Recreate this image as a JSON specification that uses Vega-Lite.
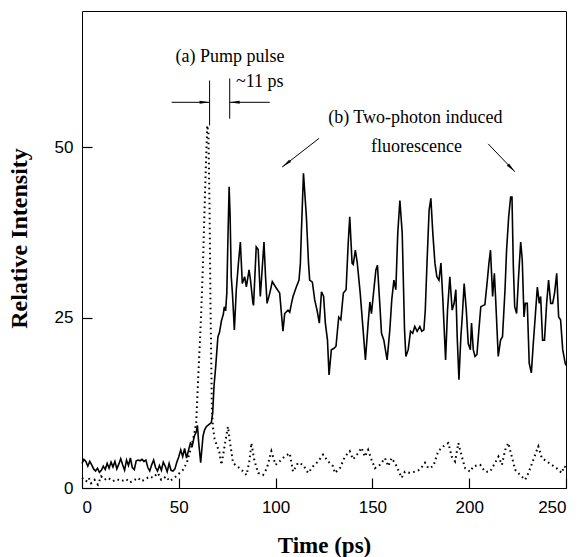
{
  "$schema": "https://vega.github.io/schema/vega-lite/v6.json",
  "width": 484,
  "height": 477,
  "autosize": {"type": "none"},
  "padding": {"left": 82, "top": 11, "right": 15, "bottom": 69},
  "background": "white",
  "config": {
    "view": {"stroke": "black", "strokeWidth": 1},
    "axis": {
      "domain": false, "labelColor": "black", "titleColor": "black",
      "labelFont": "Liberation Sans", "labelFontSize": 17,
      "titleFont": "Liberation Serif", "titleFontWeight": "bold",
      "grid": false
    }
  },
  "datasets": {
    "fluor": [
      {"t":0,"v":3.6},{"t":1,"v":4.2},{"t":2,"v":3.9},{"t":3,"v":3.2},{"t":4,"v":3.9},{"t":5,"v":3.4},{"t":6,"v":2.8},{"t":7,"v":2.5},{"t":8,"v":2.9},{"t":9,"v":2.3},
      {"t":10,"v":2.6},{"t":11,"v":3.2},{"t":12,"v":2.7},{"t":13,"v":3.6},{"t":14,"v":2.9},{"t":15,"v":3.8},{"t":16,"v":3.1},{"t":17,"v":3.9},{"t":18,"v":2.8},{"t":19,"v":3.5},
      {"t":20,"v":4.3},{"t":21,"v":3.4},{"t":22,"v":2.6},{"t":23,"v":4.1},{"t":24,"v":3.3},{"t":25,"v":4.4},{"t":26,"v":3.0},{"t":27,"v":2.7},{"t":28,"v":4.0},{"t":29,"v":4.1},
      {"t":30,"v":4.0},{"t":31,"v":4.2},{"t":32,"v":3.9},{"t":33,"v":4.1},{"t":34,"v":3.0},{"t":35,"v":2.5},{"t":36,"v":3.4},{"t":37,"v":4.1},{"t":38,"v":3.0},{"t":39,"v":2.5},
      {"t":40,"v":3.3},{"t":41,"v":2.6},{"t":42,"v":3.8},{"t":43,"v":3.2},{"t":44,"v":2.4},{"t":45,"v":3.6},{"t":46,"v":2.6},{"t":47,"v":2.5},{"t":48,"v":2.8},{"t":49,"v":3.8},
      {"t":50,"v":4.6},{"t":51,"v":5.6},{"t":52,"v":4.6},{"t":53,"v":5.8},{"t":54,"v":4.4},{"t":55,"v":5.5},{"t":56,"v":6.6},{"t":57,"v":6.2},{"t":58,"v":7.6},{"t":59,"v":8.2},
      {"t":59.6,"v":9.2},{"t":60.3,"v":6.6},{"t":61.3,"v":3.7},{"t":62.5,"v":7.6},{"t":63.3,"v":8.5},{"t":64.2,"v":9},{"t":65.5,"v":9.3},{"t":66.8,"v":9.6},{"t":67.5,"v":11},{"t":68.2,"v":15},
      {"t":69,"v":17.6},{"t":70.2,"v":22.2},{"t":71,"v":22.8},{"t":72,"v":24.5},{"t":73,"v":25.5},{"t":73.5,"v":26.6},{"t":74.2,"v":26},{"t":74.8,"v":28.6},{"t":75.4,"v":36.9},{"t":76,"v":44.2},
      {"t":76.5,"v":40},{"t":77.1,"v":31},{"t":77.7,"v":28.6},{"t":78.7,"v":23.2},{"t":79.7,"v":29.1},{"t":80.8,"v":33},{"t":81.8,"v":36.1},{"t":82.8,"v":30},{"t":84,"v":31},{"t":84.9,"v":29.5},
      {"t":86.3,"v":32},{"t":87,"v":30.6},{"t":88.3,"v":27.1},{"t":88.6,"v":26.8},{"t":90,"v":35.4},{"t":91,"v":35},{"t":92.1,"v":28.1},{"t":92.8,"v":31},{"t":94,"v":36.1},{"t":94.8,"v":31},
      {"t":95.6,"v":27.1},{"t":97,"v":28.6},{"t":98.3,"v":30.3},{"t":100,"v":29.5},{"t":102.1,"v":28.6},{"t":103.8,"v":23},{"t":104.7,"v":25.6},{"t":106.4,"v":26.1},{"t":107.3,"v":25.8},{"t":108.2,"v":27.1},
      {"t":109,"v":28.1},{"t":110.7,"v":29.5},{"t":112.1,"v":30.5},{"t":112.8,"v":33},{"t":113.3,"v":37.4},{"t":114.4,"v":46.2},{"t":115.9,"v":39.8},{"t":117,"v":33},{"t":117.6,"v":30.5},{"t":119,"v":30.2},
      {"t":120.2,"v":27.6},{"t":121.4,"v":26.1},{"t":122.6,"v":24.2},{"t":123.7,"v":28.8},{"t":124.8,"v":28.1},{"t":125.7,"v":24.2},{"t":126.8,"v":21.7},{"t":127.6,"v":16.6},{"t":128.8,"v":20.3},{"t":130.2,"v":20.5},
      {"t":131.2,"v":20.8},{"t":132.6,"v":25.1},{"t":133.7,"v":24.7},{"t":135,"v":28.6},{"t":136.4,"v":29.1},{"t":137.5,"v":35.9},{"t":138.3,"v":39.8},{"t":139.5,"v":33},{"t":140.1,"v":32.8},{"t":141.2,"v":34.9},
      {"t":142.2,"v":33},{"t":143.7,"v":28.6},{"t":145.2,"v":23.2},{"t":146.4,"v":18.8},{"t":147.8,"v":24.2},{"t":148.7,"v":27.3},{"t":149.5,"v":25.6},{"t":150.4,"v":28.1},{"t":151.8,"v":32},{"t":152.6,"v":32.7},
      {"t":153.8,"v":27.1},{"t":154.7,"v":22.7},{"t":155.9,"v":21.7},{"t":157.6,"v":18.8},{"t":159,"v":23.2},{"t":160,"v":27.6},{"t":161.1,"v":30.5},{"t":162.1,"v":29.1},{"t":163.1,"v":37.4},{"t":164.2,"v":42.2},
      {"t":165.4,"v":37.4},{"t":166.6,"v":23.2},{"t":167.3,"v":19.3},{"t":168.5,"v":20.3},{"t":169.7,"v":23},{"t":170.8,"v":22.7},{"t":171.9,"v":23.7},{"t":173.1,"v":23},{"t":174.5,"v":23.7},{"t":175.5,"v":23},
      {"t":176.6,"v":23.2},{"t":177.3,"v":26},{"t":178.2,"v":33},{"t":179.3,"v":40.8},{"t":180.2,"v":42.5},{"t":181.2,"v":37.4},{"t":182.3,"v":33},{"t":183.3,"v":31},{"t":184.4,"v":30.5},{"t":185.4,"v":33},
      {"t":186.4,"v":27.6},{"t":187.8,"v":18.8},{"t":188.8,"v":26.1},{"t":190,"v":31},{"t":191.2,"v":26.1},{"t":192.2,"v":27.1},{"t":193.1,"v":29.1},{"t":193.8,"v":22.2},{"t":194.7,"v":15.9},{"t":195.7,"v":22.2},
      {"t":196.4,"v":25.1},{"t":197.4,"v":30},{"t":198.5,"v":26.1},{"t":199.5,"v":21.2},{"t":200.6,"v":20.3},{"t":201.2,"v":24.2},{"t":202.1,"v":20.3},{"t":203,"v":19.3},{"t":204,"v":19.6},{"t":205,"v":23.2},
      {"t":206,"v":26.6},{"t":207.3,"v":26.8},{"t":208.1,"v":26.9},{"t":209.2,"v":30},{"t":210.2,"v":33},{"t":211,"v":34.9},{"t":212.1,"v":28.1},{"t":213,"v":31.5},{"t":213.6,"v":28.1},{"t":215,"v":19.3},
      {"t":216.2,"v":21.7},{"t":217.2,"v":22.2},{"t":218.5,"v":29.1},{"t":219.3,"v":34.9},{"t":220.4,"v":39.8},{"t":221.4,"v":42.7},{"t":222.1,"v":42.7},{"t":222.8,"v":32.5},{"t":223.5,"v":26.6},{"t":224.5,"v":25.6},
      {"t":225.5,"v":31},{"t":226.6,"v":36.1},{"t":227.4,"v":33.5},{"t":228.3,"v":25.1},{"t":229,"v":27.1},{"t":230,"v":27.1},{"t":231,"v":18.3},{"t":232.1,"v":16.9},{"t":233.1,"v":21.2},{"t":234.1,"v":25.1},
      {"t":235.2,"v":29.5},{"t":236.2,"v":27.1},{"t":236.9,"v":28.1},{"t":237.9,"v":21.7},{"t":238.9,"v":21.7},{"t":240,"v":27.1},{"t":241,"v":30.5},{"t":242.1,"v":27.1},{"t":243.1,"v":27.1},{"t":244.1,"v":28.6},
      {"t":245.2,"v":31.5},{"t":246.2,"v":25.1},{"t":247.2,"v":24.7},{"t":248.3,"v":20.3},{"t":249.6,"v":18.3},{"t":250,"v":18}
    ],
    "pump": [
      {"t":0,"v":1.5},{"t":2.2,"v":1.0},{"t":3.5,"v":1.5},{"t":4.7,"v":0.7},{"t":6.5,"v":1.2},{"t":8.2,"v":0.5},{"t":9.9,"v":1.7},{"t":11.6,"v":1.2},{"t":13.4,"v":1.5},{"t":16,"v":1.0},
      {"t":18,"v":1.3},{"t":20.3,"v":1.0},{"t":22.9,"v":1.3},{"t":24.6,"v":0.8},{"t":27.2,"v":1.2},{"t":28.9,"v":1.5},{"t":30.6,"v":1.0},{"t":32.3,"v":1.2},{"t":34.9,"v":1.7},{"t":36.6,"v":1.5},
      {"t":39.2,"v":2.2},{"t":40.9,"v":1.2},{"t":43.5,"v":1.7},{"t":45.2,"v":1.0},{"t":47.8,"v":1.5},{"t":50.4,"v":2.2},{"t":52,"v":2.6},{"t":54,"v":3.6},{"t":55.5,"v":5},{"t":56.5,"v":6.1},
      {"t":58,"v":8},{"t":59,"v":9.6},{"t":60,"v":16},{"t":61,"v":22},{"t":61.6,"v":26},{"t":62.5,"v":33},{"t":63.3,"v":41},{"t":64,"v":47.5},{"t":64.7,"v":53.2},{"t":65.3,"v":52},
      {"t":65.9,"v":40.8},{"t":66.4,"v":26},{"t":67.1,"v":11.5},{"t":67.6,"v":9},{"t":68.5,"v":7.2},{"t":70,"v":6},{"t":71,"v":5.2},{"t":72,"v":3.4},{"t":73,"v":5},{"t":74.5,"v":7.6},
      {"t":75.4,"v":9},{"t":76.3,"v":7},{"t":78,"v":3.7},{"t":79.5,"v":3.3},{"t":81.5,"v":2.9},{"t":83,"v":2.5},{"t":85,"v":1.9},{"t":86.5,"v":4},{"t":87.5,"v":6.6},{"t":89,"v":4.1},
      {"t":91,"v":2.2},{"t":93.5,"v":1.9},{"t":95.5,"v":2.9},{"t":97.8,"v":5.4},{"t":100,"v":3.4},{"t":102,"v":3.9},{"t":104.6,"v":4.6},{"t":107.3,"v":5.1},{"t":109,"v":2.4},{"t":111.6,"v":3.7},
      {"t":114.2,"v":3.4},{"t":116.8,"v":2.2},{"t":119.4,"v":3.2},{"t":122,"v":3.9},{"t":124.5,"v":4.9},{"t":127.1,"v":3.9},{"t":129.7,"v":3.2},{"t":130.6,"v":2.2},{"t":133.2,"v":2.9},{"t":135.8,"v":4.6},
      {"t":138.3,"v":5.4},{"t":140,"v":4.2},{"t":142.6,"v":5.1},{"t":144.4,"v":5.9},{"t":146.1,"v":4.6},{"t":147.8,"v":5.6},{"t":149.5,"v":4.2},{"t":151.3,"v":2.9},{"t":153.9,"v":3.4},{"t":156.5,"v":4.4},
      {"t":158.2,"v":3.2},{"t":160,"v":4.4},{"t":162.5,"v":3.2},{"t":165.1,"v":1.5},{"t":166.8,"v":2.4},{"t":169.4,"v":2.2},{"t":172,"v":2.4},{"t":174.6,"v":2.7},{"t":177.2,"v":3.7},{"t":178.9,"v":2.9},
      {"t":181.5,"v":3.2},{"t":184,"v":5.4},{"t":186.6,"v":6.1},{"t":189.2,"v":6.6},{"t":191,"v":4.6},{"t":192.7,"v":3.9},{"t":194.4,"v":6.6},{"t":196.2,"v":4.6},{"t":197.9,"v":2.9},{"t":200.5,"v":2.4},
      {"t":202.2,"v":3.2},{"t":205.7,"v":3.4},{"t":208.2,"v":2.4},{"t":210.8,"v":2.4},{"t":213.4,"v":3.7},{"t":215.1,"v":4.6},{"t":216.9,"v":3.4},{"t":218.6,"v":5.6},{"t":220.2,"v":6.6},{"t":222,"v":4.6},
      {"t":223.7,"v":2.7},{"t":226.3,"v":1.9},{"t":228.9,"v":1.2},{"t":230.6,"v":2.2},{"t":233.2,"v":4.2},{"t":235.7,"v":6.1},{"t":237.5,"v":4.4},{"t":240.1,"v":3.9},{"t":242.6,"v":3.4},{"t":245.2,"v":2.9},
      {"t":247.8,"v":2.2},{"t":249,"v":3.2},{"t":250,"v":3}
    ],
    "labels": [
      {"x":76.5,"y":62.5,"label":"(a) Pump pulse"},
      {"x":91.8,"y":58.8,"label":"~11 ps"},
      {"x":172.2,"y":53.5,"label":"(b) Two-photon induced"},
      {"x":172.8,"y":49.3,"label":"fluorescence"}
    ],
    "segments": [
      {"x":65.9,"y":59.8,"x2":65.9,"y2":53.2},
      {"x":76.3,"y":60.1,"x2":76.3,"y2":54.2},
      {"x":46.3,"y":56.6,"x2":65.9,"y2":56.6},
      {"x":97,"y":56.6,"x2":76.3,"y2":56.6},
      {"x":122.4,"y":51.3,"x2":103.4,"y2":47.1},
      {"x":209.8,"y":50.5,"x2":223.6,"y2":46.4}
    ],
    "heads": [
      {"x":65.9,"y":56.6,"angle":90},
      {"x":76.3,"y":56.6,"angle":270},
      {"x":103.4,"y":47.1,"angle":232},
      {"x":223.6,"y":46.4,"angle":136}
    ]
  },
  "layer": [
    {
      "data": {"name": "pump"},
      "mark": {"type": "line", "color": "black", "strokeWidth": 2, "strokeDash": [1.6, 3.4], "strokeCap": "butt"},
      "encoding": {
        "x": {"field": "t", "type": "quantitative", "scale": {"domain": [0, 250], "nice": false, "zero": false},
              "axis": {"values": [0, 50, 100, 150, 200, 250], "ticks": true, "tickSize": 10, "tickWidth": 1.2, "tickColor": "black", "offset": -10, "labelPadding": 11,
                       "title": "Time (ps)", "titleFontSize": 23, "titlePadding": 19}},
        "y": {"field": "v", "type": "quantitative", "scale": {"domain": [0, 70], "nice": false},
              "axis": {"values": [0, 25, 50], "ticks": true, "tickSize": 10, "tickWidth": 1.2, "tickColor": "black", "offset": -10, "labelPadding": 9,
                       "title": "Relative Intensity", "titleFontSize": 24, "titlePadding": 23, "titleY": 227}}
      }
    },
    {
      "data": {"name": "fluor"},
      "mark": {"type": "line", "color": "black", "strokeWidth": 1.6},
      "encoding": {
        "x": {"field": "t", "type": "quantitative"},
        "y": {"field": "v", "type": "quantitative"}
      }
    },
    {
      "data": {"name": "segments"},
      "mark": {"type": "rule", "color": "black", "strokeWidth": 1},
      "encoding": {
        "x": {"field": "x", "type": "quantitative"},
        "y": {"field": "y", "type": "quantitative"},
        "x2": {"field": "x2"},
        "y2": {"field": "y2"}
      }
    },
    {
      "data": {"name": "heads"},
      "mark": {"type": "point", "shape": "M0,0L0.3,2L-0.3,2Z", "filled": true, "color": "black", "size": 100, "opacity": 1, "strokeWidth": 0},
      "encoding": {
        "x": {"field": "x", "type": "quantitative"},
        "y": {"field": "y", "type": "quantitative"},
        "angle": {"field": "angle", "type": "quantitative", "scale": null}
      }
    },
    {
      "data": {"name": "labels"},
      "mark": {"type": "text", "font": "Liberation Serif", "fontSize": 18, "color": "black", "align": "center", "baseline": "alphabetic"},
      "encoding": {
        "x": {"field": "x", "type": "quantitative"},
        "y": {"field": "y", "type": "quantitative"},
        "text": {"field": "label"}
      }
    }
  ]
}
